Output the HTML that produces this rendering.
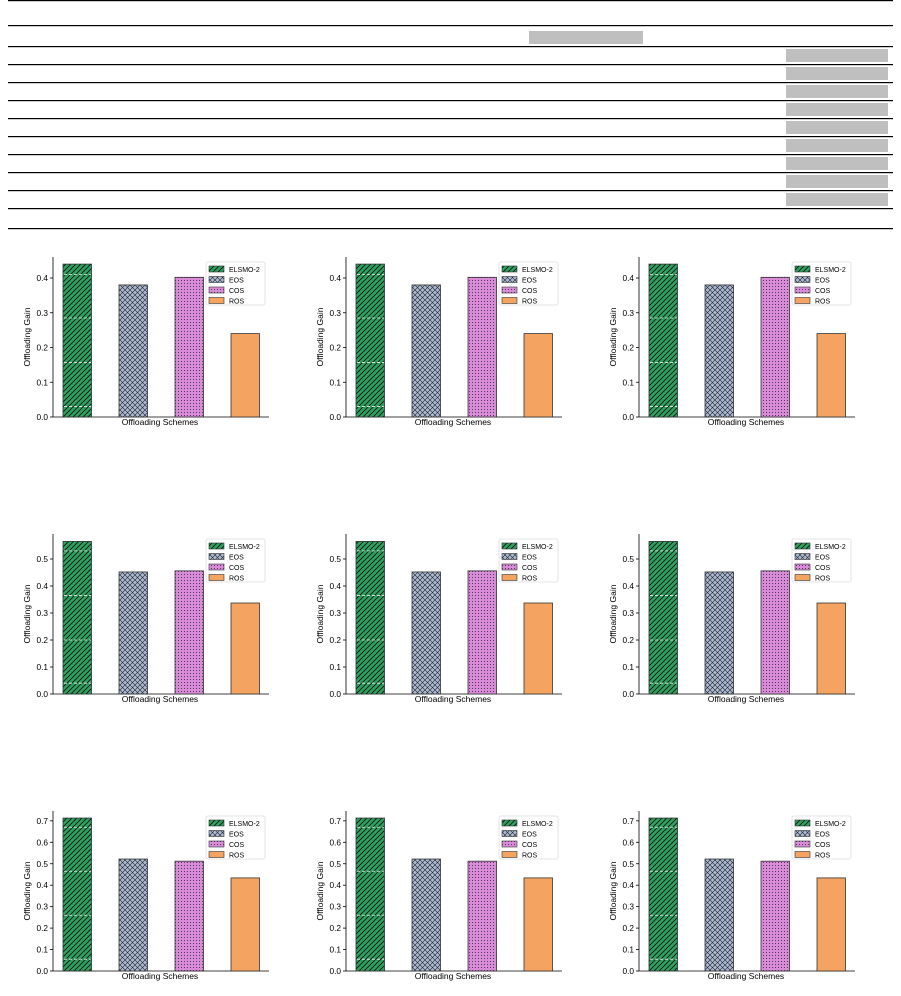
<!DOCTYPE html>
<html><head><meta charset="utf-8"><style>
html,body{margin:0;padding:0;background:#fff;}
body{width:901px;height:996px;position:relative;overflow:hidden;font-family:"Liberation Sans","DejaVu Sans",sans-serif;}
</style></head><body>
<svg id="s" width="901" height="996" xmlns="http://www.w3.org/2000/svg" style="position:absolute;left:0;top:0">
<defs>
<pattern id="hg" patternUnits="userSpaceOnUse" width="5" height="5"><rect width="5" height="5" fill="#2ca25f"/><path d="M-1,6 L6,-1 M-1,1 L1,-1 M4,6 L6,4" stroke="#111" stroke-width="0.9"/></pattern>
<pattern id="hb" patternUnits="userSpaceOnUse" width="5" height="5"><rect width="5" height="5" fill="#a9b9d4"/><path d="M0,0 L5,5 M5,0 L0,5" stroke="#222" stroke-width="0.6"/></pattern>
<pattern id="hp" patternUnits="userSpaceOnUse" width="3" height="3"><rect width="3" height="3" fill="#d98ad9"/><circle cx="1.5" cy="1.5" r="0.5" fill="#222"/></pattern>
</defs>
<g id="g"></g>
</svg>
<script>
var g=document.getElementById('g'),h='';
var ys=[0,25,46,64,82,100,118,136,154,172,190,208,228];
ys.forEach(function(y){h+='<rect x="8" y="'+y+'" width="885" height="1.2" fill="#000"/>';});
h+='<rect x="529" y="31" width="114" height="13" fill="#bfbfbf"/>';
for(var i=0;i<9;i++){h+='<rect x="786" y="'+(49+18*i)+'" width="102" height="13" fill="#bfbfbf"/>';}
var rows=[
 {bot:417,top:257,per:34.75,max:4,vals:[0.44,0.38,0.402,0.24],dash:[0.41,0.285,0.157,0.03]},
 {bot:694,top:534,per:27.0,max:5,vals:[0.565,0.452,0.456,0.337],dash:[0.53,0.365,0.2,0.04]},
 {bot:971,top:811,per:21.45,max:7,vals:[0.713,0.522,0.512,0.434],dash:[0.67,0.465,0.26,0.055]}];
var fills=['url(#hg)','url(#hb)','url(#hp)','#f4a460'];
var names=['ELSMO-2','EOS','COS','ROS'];
rows.forEach(function(r){
 for(var c=0;c<3;c++){
  var ox=293*c, L=53+ox, R=269+ox;
  h+='<line x1="'+L+'" y1="'+r.top+'" x2="'+L+'" y2="'+r.bot+'" stroke="#000" stroke-width="0.8"/>';
  h+='<line x1="'+L+'" y1="'+r.bot+'" x2="'+R+'" y2="'+r.bot+'" stroke="#000" stroke-width="0.8"/>';
  for(var t=0;t<=r.max;t++){var y=r.bot-t*r.per;
   h+='<line x1="'+(L-3)+'" y1="'+y+'" x2="'+L+'" y2="'+y+'" stroke="#000" stroke-width="0.8"/>';
   h+='<text x="'+(L-5)+'" y="'+(y+3)+'" font-size="8.3" text-anchor="end">'+(t/10).toFixed(1)+'</text>';}
  var mid=(r.top+r.bot)/2;
  h+='<text x="'+(30+ox)+'" y="'+mid+'" font-size="8.5" text-anchor="middle" transform="rotate(-90 '+(30+ox)+' '+mid+')">Offloading Gain</text>';
  h+='<text x="'+(160+ox)+'" y="'+(r.bot+8)+'" font-size="8.5" text-anchor="middle">Offloading Schemes</text>';
  var bx=[63,119,175,231];
  for(var b=0;b<4;b++){var ht=r.vals[b]*r.per*10,x=bx[b]+ox;
   h+='<rect x="'+x+'" y="'+(r.bot-ht)+'" width="28.5" height="'+ht+'" fill="'+fills[b]+'" stroke="#333" stroke-width="0.8"/>';}
  r.dash.forEach(function(d){var y=r.bot-d*r.per*10;h+='<line x1="'+(64+ox)+'" y1="'+y+'" x2="'+(91+ox)+'" y2="'+y+'" stroke="#eee" stroke-width="0.8" stroke-dasharray="3,2"/>';});
  var ly=r.top+5;
  h+='<rect x="'+(206+ox)+'" y="'+ly+'" width="59" height="43" rx="2" fill="#fff" stroke="#ddd" stroke-width="0.8"/>';
  for(var k=0;k<4;k++){var yy=ly+4+k*10.5;
   h+='<rect x="'+(209+ox)+'" y="'+yy+'" width="15" height="6" fill="'+fills[k]+'" stroke="#333" stroke-width="0.6"/>';
   h+='<text x="'+(229+ox)+'" y="'+(yy+6)+'" font-size="7">'+names[k]+'</text>';}
 }
});
g.innerHTML=h;
</script>
</body></html>
